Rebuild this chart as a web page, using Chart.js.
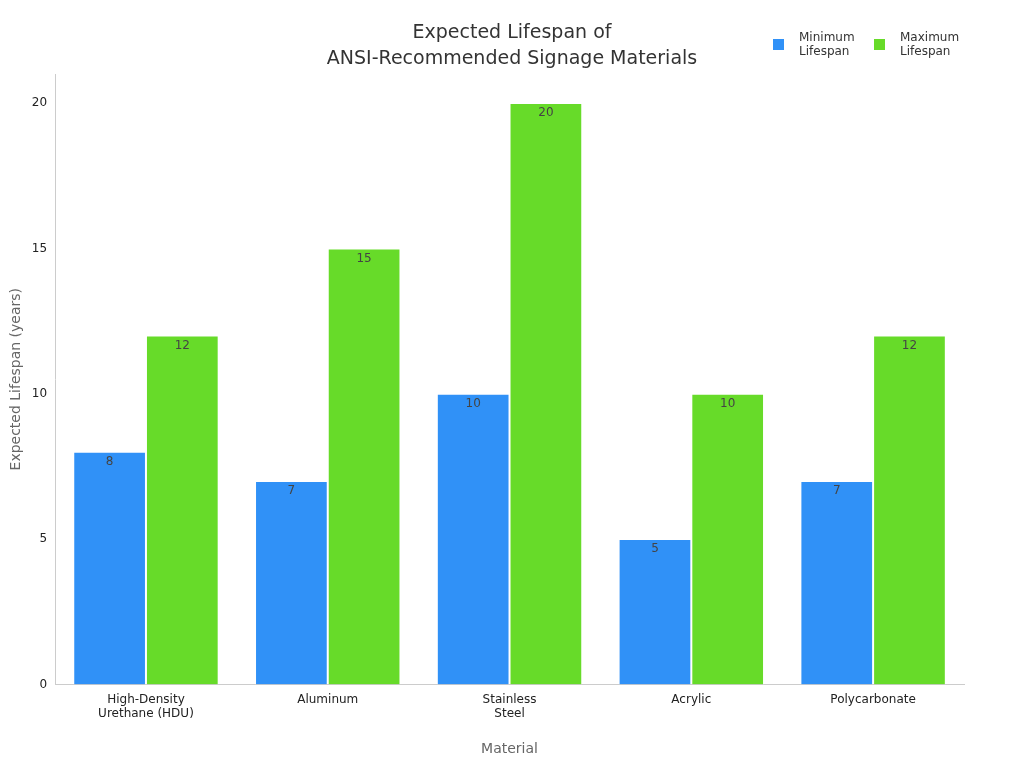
<!DOCTYPE html>
<html>
<head>
<meta charset="utf-8">
<script src="https://cdn.jsdelivr.net/npm/chart.js@4"></script>
<style>
  body { margin: 0; background: #fff; }
  #wrap { width: 1024px; height: 768px; }
</style>
</head>
<body>
<div id="wrap"><canvas id="chart"></canvas></div>
<script>
const materials = [['High-Density', 'Urethane (HDU)'], 'Aluminum', ['Stainless', 'Steel'], 'Acrylic', 'Polycarbonate'];
const minLifespan = [8, 7, 10, 5, 7];
const maxLifespan = [12, 15, 20, 10, 12];
const seriesNames = [['Minimum', 'Lifespan'], ['Maximum', 'Lifespan']];
const seriesColors = ['#3091f7', '#67db29'];
const FONT = '"DejaVu Sans", sans-serif';

// title, legend and bar value labels drawn by hand
const extras = {
  id: 'extras',
  afterDraw(chart) {
    const ctx = chart.ctx;
    ctx.save();
    ctx.fillStyle = '#333';
    ctx.font = '19px ' + FONT;
    ctx.textAlign = 'center';
    ctx.textBaseline = 'middle';
    ctx.fillText('Expected Lifespan of', 512, 33);
    ctx.fillText('ANSI-Recommended Signage Materials', 512, 59);

    ctx.font = '12px ' + FONT;
    ctx.textAlign = 'left';
    const xs = [773, 874];
    seriesNames.forEach((name, i) => {
      ctx.fillStyle = seriesColors[i];
      ctx.fillRect(xs[i], 39, 11, 11);
      ctx.fillStyle = '#333';
      ctx.fillText(name[0], xs[i] + 26, 38);
      ctx.fillText(name[1], xs[i] + 26, 52);
    });

    ctx.textAlign = 'center';
    ctx.fillStyle = '#444';
    chart.data.datasets.forEach((ds, di) => {
      chart.getDatasetMeta(di).data.forEach((bar, i) => {
        ctx.fillText(ds.data[i], bar.x - 37 + 37, bar.y + 10);
      });
    });
    ctx.restore();
  }
};

new Chart(document.getElementById('chart'), {
  type: 'bar',
  data: {
    labels: materials,
    datasets: [
      { label: 'Minimum Lifespan', data: minLifespan, backgroundColor: seriesColors[0], borderColor: '#fff', borderWidth: 1 },
      { label: 'Maximum Lifespan', data: maxLifespan, backgroundColor: seriesColors[1], borderColor: '#fff', borderWidth: 1 }
    ]
  },
  options: {
    responsive: true,
    maintainAspectRatio: false,
    animation: false,
    layout: { padding: { top: 74, right: 60, left: 4, bottom: 6 } },
    datasets: { bar: { categoryPercentage: 0.8, barPercentage: 1 } },
    plugins: { legend: { display: false }, tooltip: { enabled: false } },
    scales: {
      x: {
        grid: { display: false, drawTicks: false },
        border: { color: '#ccc' },
        ticks: { color: '#222', font: { family: FONT, size: 12 }, padding: 8 },
        title: { display: true, text: 'Material', color: '#666', font: { family: FONT, size: 14 }, padding: { top: 12 } }
      },
      y: {
        min: 0, max: 21,
        grid: { display: false, drawTicks: true, tickLength: 5 },
        border: { color: '#ccc' },
        ticks: { stepSize: 5, color: '#222', font: { family: FONT, size: 12 }, callback: v => v % 5 === 0 ? v : '' },
        title: { display: true, text: 'Expected Lifespan (years)', color: '#666', font: { family: FONT, size: 14 } }
      }
    }
  },
  plugins: [extras]
});
</script>
</body>
</html>
